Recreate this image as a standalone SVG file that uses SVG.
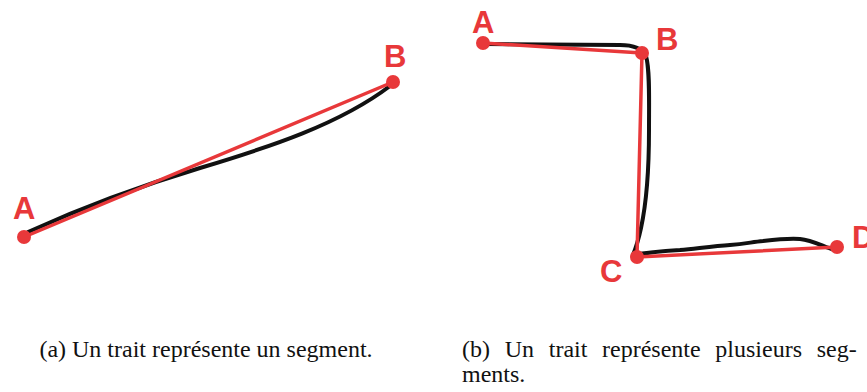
<svg xmlns="http://www.w3.org/2000/svg" width="867" height="392" viewBox="0 0 867 392">
<style>
.ink{fill:none;stroke:#111;stroke-width:4;stroke-linecap:round;stroke-linejoin:round}
.seg{fill:none;stroke:#e8383a;stroke-width:3.5;stroke-linecap:round;stroke-linejoin:round}
.pt{fill:#e8383a}
.lbl{font-family:"Liberation Sans",Arial,sans-serif;font-weight:bold;font-size:31px;fill:#e8383a}
.cap{font-family:"Liberation Serif","Times New Roman",serif;font-size:24px;fill:#111}
</style>
<rect width="867" height="392" fill="#fff"/>
<g id="figure-a">
  <g id="connectors-a">
    <path class="ink" d="M28,232 C90,204 140,186 200,168 C270,147 340,124 390,86"/>
    <line class="seg" x1="24" y1="237" x2="393" y2="82"/>
  </g>
  <g id="a-A"><circle class="pt" cx="24" cy="237" r="7"/><text class="lbl" x="13" y="219">A</text></g>
  <g id="a-B"><circle class="pt" cx="393" cy="82" r="7"/><text class="lbl" x="384" y="67">B</text></g>
</g>
<g id="figure-b">
  <g id="connectors-b">
    <path class="ink" d="M486,44 L620,45 C634,45 642,48 646,56 C650,70 649,100 649,130 C649,170 646,205 641,228 C638,242 635,250 633,255 C650,252 665,251 680,250 C700,248 715,246 730,245 C745,244 752,242 763,241 C780,239 790,238 800,239 C812,240 822,246 834,250"/>
    <polyline class="seg" points="483,43 642,53 637,257 837,247"/>
  </g>
  <g id="b-A"><circle class="pt" cx="483" cy="43" r="7"/><text class="lbl" x="472" y="33">A</text></g>
  <g id="b-B"><circle class="pt" cx="642" cy="53" r="7"/><text class="lbl" x="656" y="50">B</text></g>
  <g id="b-C"><circle class="pt" cx="637" cy="257" r="7"/><text class="lbl" x="600" y="282">C</text></g>
  <g id="b-D"><circle class="pt" cx="837" cy="247" r="7"/><text class="lbl" x="852" y="248">D</text></g>
</g>
<g id="captions">
  <text class="cap" x="206" y="357" text-anchor="middle">(a) Un trait représente un segment.</text>
  <text class="cap" x="462" y="357" word-spacing="8.7">(b) Un trait représente plusieurs seg-</text>
  <text class="cap" x="462" y="382">ments.</text>
</g>
</svg>
